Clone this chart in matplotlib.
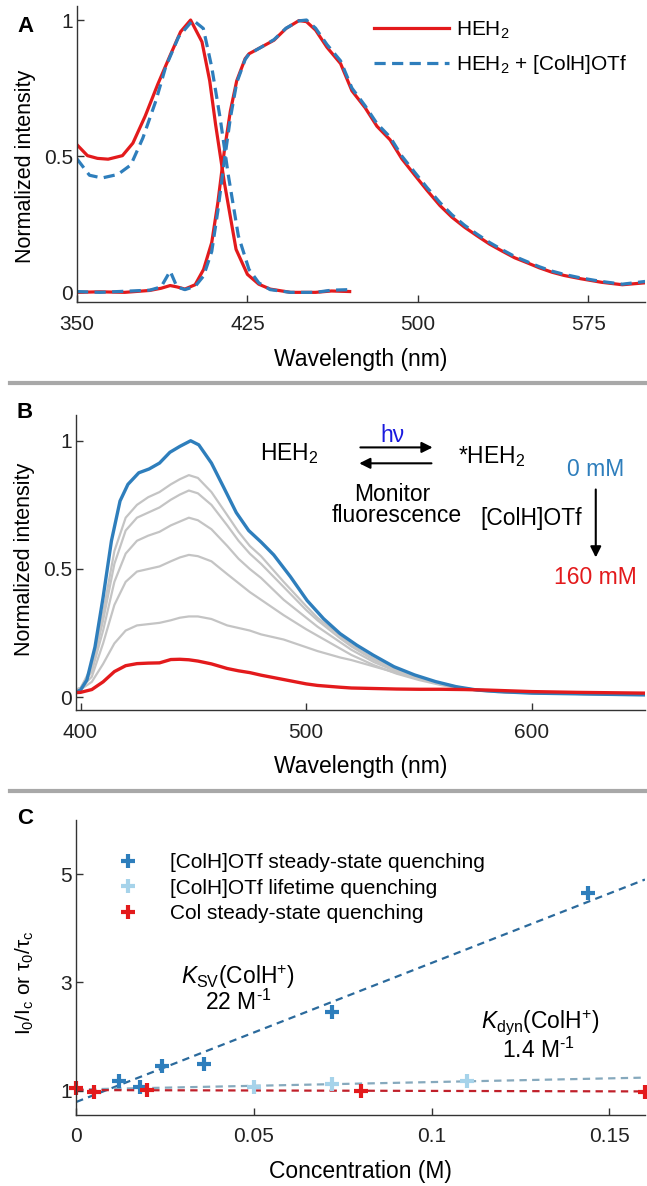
import matplotlib
matplotlib.use("Agg")
import matplotlib.pyplot as plt
from matplotlib.lines import Line2D

plt.rcParams['font.family'] = ['Liberation Sans', 'DejaVu Sans']
plt.rcParams['mathtext.fontset'] = 'custom'
plt.rcParams['mathtext.rm'] = 'Liberation Sans'
plt.rcParams['mathtext.it'] = 'Liberation Sans:italic'
plt.rcParams['mathtext.bf'] = 'Liberation Sans:bold'

# ---- panel A data ----
abs_wl = [350, 354.6, 359, 363.7, 370, 374.6, 380, 385.6, 391, 395.6, 400, 405, 408.4, 411, 414.8,
          420, 425, 430, 435, 444, 455, 462, 470]
abs_heh2 = [0.542, 0.502, 0.492, 0.489, 0.502, 0.548, 0.647, 0.765, 0.87, 0.957, 1.0, 0.92, 0.777,
            0.616, 0.406, 0.158, 0.066, 0.03, 0.012, 0.0, 0.0, 0.005, 0.003]
abs_wl2 = [350, 355.5, 361, 368, 373.7, 379, 384.7, 389, 394.7, 401, 405.6, 409.3, 413, 416.6,
           421, 425.7, 430, 435, 444, 455, 462, 470]
abs_mix = [0.49, 0.43, 0.42, 0.433, 0.468, 0.567, 0.703, 0.827, 0.938, 1.0, 0.969, 0.827, 0.64,
           0.43, 0.208, 0.084, 0.035, 0.01, 0.0, 0.0, 0.008, 0.01]

em_wl = [350, 360, 371, 382, 387, 391, 394, 397.5, 402, 405.7, 409.3, 412, 414.8, 417.5, 420.3, 424,
         425.7, 431, 436.7, 442, 447.7, 451, 455, 460, 466, 471, 476.8, 482, 487.8, 493, 498.7,
         504, 509.7, 515, 520.6, 526, 531.6, 537, 542.6, 548, 553.5, 559, 564.4, 571.7, 580.8,
         590, 600]
em_heh2 = [0.0, 0.002, 0.0, 0.007, 0.015, 0.025, 0.02, 0.012, 0.028, 0.084, 0.183, 0.33, 0.517,
           0.666, 0.777, 0.858, 0.876, 0.9, 0.926, 0.969, 0.998, 0.994, 0.963, 0.9, 0.84, 0.74,
           0.678, 0.61, 0.56, 0.49, 0.43, 0.375, 0.319, 0.276, 0.239, 0.208, 0.177, 0.152, 0.127,
           0.109, 0.09, 0.074, 0.062, 0.05, 0.037, 0.028, 0.035]
em_mix = [0.003, 0.0, 0.004, 0.008, 0.02, 0.078, 0.02, 0.01, 0.022, 0.06, 0.15, 0.3, 0.48,
          0.64, 0.77, 0.855, 0.875, 0.9, 0.928, 0.97, 0.997, 1.0, 0.97, 0.91, 0.85, 0.75,
          0.685, 0.62, 0.57, 0.5, 0.44, 0.385, 0.33, 0.285, 0.246, 0.214, 0.183, 0.157, 0.132,
          0.113, 0.094, 0.078, 0.066, 0.053, 0.04, 0.03, 0.04]

# ---- panel B data ----
b_wl_0 = [398, 400, 402.8, 406.4, 410, 413.7, 417.5, 421, 425.8, 430.4, 435, 439.6, 444, 448.8,
          452.4, 458, 463.5, 469, 474.5, 480, 485.6, 493, 500.4, 507.7, 515, 522.4, 529.7, 538.9,
          548, 557.3, 566.5, 575.7, 584.9, 600, 621.7, 650]
b_0mM = [0.02, 0.028, 0.067, 0.196, 0.39, 0.61, 0.765, 0.83, 0.875, 0.89, 0.913, 0.955, 0.978,
         1.0, 0.984, 0.913, 0.817, 0.72, 0.65, 0.605, 0.555, 0.47, 0.377, 0.306, 0.248, 0.203,
         0.164, 0.119, 0.087, 0.061, 0.041, 0.028, 0.022, 0.016, 0.013, 0.009]
b_wl = [398, 400, 405, 410, 415, 420, 425, 430, 435, 440, 444, 448, 452, 458, 465, 470, 475, 480,
        490, 500, 505, 515, 520, 530, 540, 550, 560, 570, 580, 590, 600, 620, 650]
b_gray = [
    [0.03, 0.035, 0.12, 0.33, 0.57, 0.70, 0.75, 0.78, 0.80, 0.83, 0.85, 0.866, 0.855, 0.80,
     0.71, 0.645, 0.59, 0.55, 0.45, 0.355, 0.31, 0.24, 0.205, 0.15, 0.11, 0.077, 0.053, 0.035,
     0.025, 0.019, 0.017, 0.013, 0.01],
    [0.03, 0.035, 0.11, 0.30, 0.52, 0.65, 0.70, 0.72, 0.74, 0.77, 0.79, 0.806, 0.795, 0.75,
     0.67, 0.61, 0.56, 0.52, 0.43, 0.34, 0.30, 0.23, 0.198, 0.145, 0.105, 0.075, 0.052, 0.035,
     0.025, 0.019, 0.017, 0.013, 0.01],
    [0.03, 0.035, 0.10, 0.26, 0.45, 0.56, 0.61, 0.63, 0.645, 0.67, 0.685, 0.70, 0.69, 0.655,
     0.59, 0.54, 0.50, 0.465, 0.38, 0.31, 0.275, 0.215, 0.185, 0.137, 0.1, 0.072, 0.05, 0.034,
     0.024, 0.019, 0.017, 0.013, 0.01],
    [0.03, 0.035, 0.08, 0.21, 0.36, 0.45, 0.49, 0.50, 0.51, 0.53, 0.545, 0.555, 0.55, 0.53,
     0.48, 0.445, 0.41, 0.38, 0.32, 0.265, 0.24, 0.19, 0.165, 0.125, 0.092, 0.067, 0.047, 0.032,
     0.023, 0.018, 0.016, 0.013, 0.01],
    [0.028, 0.03, 0.06, 0.13, 0.21, 0.26, 0.28, 0.285, 0.29, 0.30, 0.31, 0.315, 0.315, 0.305,
     0.28, 0.27, 0.26, 0.245, 0.225, 0.195, 0.18, 0.155, 0.145, 0.12, 0.095, 0.072, 0.05, 0.035,
     0.025, 0.019, 0.016, 0.013, 0.01],
]
b_160mM = [0.018, 0.019, 0.03, 0.06, 0.1, 0.123, 0.131, 0.133, 0.134, 0.147, 0.148, 0.146, 0.141,
           0.13, 0.112, 0.103, 0.096, 0.086, 0.069, 0.052, 0.046, 0.039, 0.036, 0.034, 0.032, 0.031,
           0.031, 0.03, 0.028, 0.025, 0.022, 0.019, 0.016]

# ---- panel C data ----
colh_conc = [0.012, 0.018, 0.024, 0.036, 0.072, 0.144]
colh_ss = [1.18, 1.06, 1.45, 1.49, 2.45, 4.66]
colh_lt_conc = [0.05, 0.072, 0.11]
colh_lt = [1.07, 1.13, 1.18]
col_conc = [0.0, 0.005, 0.02, 0.08, 0.16]
col_ss = [1.04, 0.97, 1.01, 1.0, 0.98]
fit_x = [0.0, 0.16]
fit_ss = [0.79, 4.9]
fit_lt = [1.02, 1.24]
fit_col = [1.01, 0.985]

red = '#e31a1c'
blue = '#2e7ebc'
lblue = '#a6d3ea'
gray = '#c4c4c4'
axcol = '#333333'


def style(ax, xlabel, ylabel, ylsize=15, ylpos=0.5):
    for s in ['top', 'right']:
        ax.spines[s].set_visible(False)
    for s in ['left', 'bottom']:
        ax.spines[s].set_color(axcol)
        ax.spines[s].set_linewidth(1.0)
    ax.tick_params(direction='in', length=5, width=1, colors=axcol, labelcolor='#222222')
    ax.tick_params(axis='x', labelsize=15, pad=9)
    ax.tick_params(axis='y', labelsize=15, pad=3)
    ax.set_xlabel(xlabel, fontsize=16.5, va='center')
    ax.set_ylabel(ylabel, fontsize=ylsize, va='center')
    ax.xaxis.set_label_coords(0.5, -0.193)
    ax.yaxis.set_label_coords(-0.091, ylpos)


fig = plt.figure(figsize=(6.47, 11.86), dpi=100)

# ---------------- A ----------------
axA = fig.add_axes([0.119, 0.745, 0.878, 0.2496])
axA.plot(abs_wl, abs_heh2, color=red, lw=2.3)
axA.plot(em_wl, em_heh2, color=red, lw=2.3)
axA.plot(abs_wl2, abs_mix, color=blue, lw=2.3, dashes=(3.5, 2))
axA.plot(em_wl, em_mix, color=blue, lw=2.3, dashes=(3.5, 2))
axA.set_xlim(350, 600)
axA.set_ylim(-0.037, 1.05)
axA.set_xticks([350, 425, 500, 575])
axA.set_yticks([0, 0.5, 1])
axA.set_yticklabels(['0', '0.5', '1'])
style(axA, 'Wavelength (nm)', 'Normalized intensity', ylsize=15.5, ylpos=0.46)
hA = [Line2D([], [], color=red, lw=2.3),
      Line2D([], [], color=blue, lw=2.3, dashes=(3.5, 2))]
axA.legend(hA, [r'HEH$_2$', r'HEH$_2$ + [ColH]OTf'], loc='upper left',
           bbox_to_anchor=(0.497, 1.005), frameon=False, fontsize=15, handlelength=3.6,
           handletextpad=0.35, labelspacing=0.6, borderaxespad=0.3)

# ---------------- B ----------------
axB = fig.add_axes([0.1175, 0.4013, 0.879, 0.2487])
for g in b_gray:
    axB.plot(b_wl, g, color=gray, lw=1.6)
axB.plot(b_wl_0, b_0mM, color=blue, lw=2.4)
axB.plot(b_wl, b_160mM, color=red, lw=2.4)
axB.set_xlim(398, 650)
axB.set_ylim(-0.05, 1.1)
axB.set_xticks([400, 500, 600])
axB.set_yticks([0, 0.5, 1])
axB.set_yticklabels(['0', '0.5', '1'])
style(axB, 'Wavelength (nm)', 'Normalized intensity', ylsize=15.5, ylpos=0.51)

fs = 16.5
axB.text(492.5, 0.95, r'HEH$_2$', fontsize=fs, ha='center', va='center')
axB.text(582, 0.94, r'*HEH$_2$', fontsize=fs, ha='center', va='center')
axB.text(538, 1.02, 'h\u03bd', fontsize=fs, ha='center', va='center', color='#1a1adf')
arrow = dict(arrowstyle='-|>', color='k', lw=1.5, mutation_scale=16, shrinkA=0, shrinkB=0)
axB.annotate('', xy=(556, 0.974), xytext=(524, 0.974), arrowprops=arrow)
axB.annotate('', xy=(523.5, 0.912), xytext=(555.5, 0.912), arrowprops=arrow)
axB.text(538, 0.79, 'Monitor', fontsize=fs, ha='center', va='center')
axB.text(540, 0.707, 'fluorescence', fontsize=fs, ha='center', va='center')
axB.text(599.5, 0.695, '[ColH]OTf', fontsize=fs, ha='center', va='center')
axB.text(628.3, 0.889, '0 mM', fontsize=fs, ha='center', va='center', color=blue)
axB.text(628.3, 0.467, '160 mM', fontsize=fs, ha='center', va='center', color=red)
axB.annotate('', xy=(628.3, 0.545), xytext=(628.3, 0.81), arrowprops=arrow)

# ---------------- C ----------------
axC = fig.add_axes([0.1178, 0.0599, 0.879, 0.2487])
axC.plot(fit_x, fit_ss, color='#2b6a9c', lw=1.6, dashes=(3.3, 2.4))
axC.plot(fit_x, fit_lt, color='#86a9bd', lw=1.6, dashes=(3.3, 2.4))
axC.plot(fit_x, fit_col, color='#c0202a', lw=1.6, dashes=(3.3, 2.4))
axC.plot(colh_conc, colh_ss, '+', color=blue, ms=10, mew=3, ls='none',
         label='[ColH]OTf steady-state quenching', clip_on=False)
axC.plot(colh_lt_conc, colh_lt, '+', color=lblue, ms=10, mew=3, ls='none',
         label='[ColH]OTf lifetime quenching', clip_on=False)
axC.plot(col_conc, col_ss, '+', color=red, ms=10, mew=3, ls='none',
         label='Col steady-state quenching', clip_on=False)
axC.set_xlim(0, 0.16)
axC.set_ylim(0.55, 6)
axC.set_xticks([0, 0.05, 0.1, 0.15])
axC.set_xticklabels(['0', '0.05', '0.1', '0.15'])
axC.set_yticks([1, 3, 5])
style(axC, 'Concentration (M)', r'$\mathrm{I_0/I_c}$ or $\mathrm{\tau_0/\tau_c}$',
      ylsize=15, ylpos=0.45)
axC.legend(loc='upper left', bbox_to_anchor=(0.03, 0.95), frameon=False, fontsize=15,
           handlelength=1.5, handletextpad=1.3, labelspacing=0.3)
axC.text(0.0456, 3.1, r'$K_{\mathrm{SV}}$(ColH$^{+}$)', fontsize=fs, ha='center', va='center')
axC.text(0.0456, 2.64, '22 M$^{\u2010\\mathrm{1}}$', fontsize=fs, ha='center', va='center')
axC.text(0.1306, 2.25, r'$K_{\mathrm{dyn}}$(ColH$^{+}$)', fontsize=fs, ha='center', va='center')
axC.text(0.130, 1.75, '1.4 M$^{\u2010\\mathrm{1}}$', fontsize=fs, ha='center', va='center')

# panel letters and separators
for lab, yp in [('A', 27), ('B', 412), ('C', 818)]:
    fig.text(25 / 647, 1 - yp / 1186, lab, fontsize=16, fontweight='bold', ha='center',
             va='center')
for yp in [383, 791]:
    fig.add_artist(Line2D([10 / 647, 1], [1 - yp / 1186] * 2, color='#a8a8a8', lw=3,
                          transform=fig.transFigure))

fig.savefig('out.png', dpi=100)
